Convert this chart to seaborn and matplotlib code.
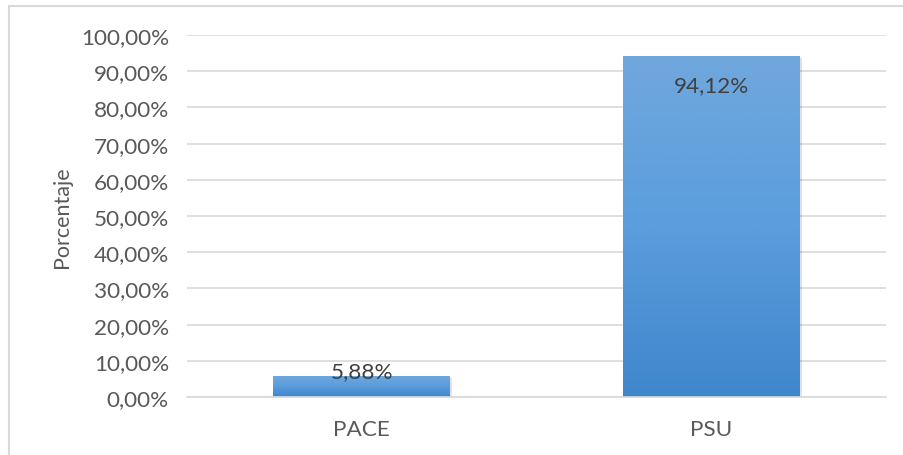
import matplotlib
matplotlib.use("Agg")
import matplotlib.pyplot as plt
import seaborn as sns
import numpy as np
import pandas as pd
from matplotlib.patches import Rectangle
from matplotlib.colors import LinearSegmentedColormap

categories = ["PACE", "PSU"]
values = [5.88, 94.12]
labels = ["5,88%", "94,12%"]
yticks = [0, 10, 20, 30, 40, 50, 60, 70, 80, 90, 100]
ytick_labels = ["0,00%", "10,00%", "20,00%", "30,00%", "40,00%", "50,00%",
                "60,00%", "70,00%", "80,00%", "90,00%", "100,00%"]

sns.set_theme(style="white")
plt.rcParams['font.family'] = ['Lato', 'DejaVu Sans']

fig = plt.figure(figsize=(9.04, 4.56), dpi=100)
W, H = 904, 456
ax = fig.add_axes([187 / W, 1 - 398 / H, (886 - 187) / W, (398 - 36) / H])

df = pd.DataFrame({"cat": categories, "val": values})
sns.barplot(data=df, x="cat", y="val", ax=ax, color="#5b9bd5", width=0.506,
            saturation=1, edgecolor="none")

FS = 16.2
ax.set_ylim(0, 100)
ax.set_xlim(-0.5, 1.5)
ax.set_yticks(yticks)
ax.set_yticklabels(ytick_labels)
ax.tick_params(axis="both", length=0, labelsize=FS, colors="#595959")
ax.tick_params(axis="y", pad=13)
ax.tick_params(axis="x", pad=16)
ax.set_xlabel("")
ax.set_ylabel("Porcentaje", fontsize=15.5, color="#595959", labelpad=6)
ax.grid(axis="y", color="#d9d9d9", linewidth=1.2)
ax.set_axisbelow(True)
for s in ["top", "right", "left"]:
    ax.spines[s].set_visible(False)
ax.spines["bottom"].set_color("#d9d9d9")
ax.spines["bottom"].set_linewidth(1.2)

cmap = LinearSegmentedColormap.from_list("g", ["#3f86cb", "#5b9ddd", "#70a8dd"])
grad = np.linspace(0, 1, 256).reshape(-1, 1)
for p in ax.patches:
    x0, y0 = p.get_x(), p.get_y()
    w, h = p.get_width(), p.get_height()
    sh = Rectangle((x0 + 0.006, y0 - 0.5), w, h, facecolor="#000000", alpha=0.12,
                   edgecolor="none", zorder=p.get_zorder() - 0.1)
    ax.add_patch(sh)
    im = ax.imshow(grad, extent=(x0, x0 + w, y0, y0 + h), origin="lower",
                   cmap=cmap, aspect="auto", zorder=p.get_zorder() + 0.1)
    im.set_clip_path(p)

ax.set_xlim(-0.5, 1.5)
ax.set_ylim(0, 100)

offsets = [3, -21]
for i, (v, lab) in enumerate(zip(values, labels)):
    ax.annotate(lab, (i, v), xytext=(0, offsets[i]), textcoords="offset points",
                ha="center", va="center", fontsize=FS, color="#404040", zorder=10)

fig.patches.append(Rectangle((9 / W, -0.1), 1.2, 1 - 7 / H + 0.1, transform=fig.transFigure,
                             facecolor="none", edgecolor="#d9d9d9", linewidth=1.5))

fig.savefig("out.png", dpi=100)
